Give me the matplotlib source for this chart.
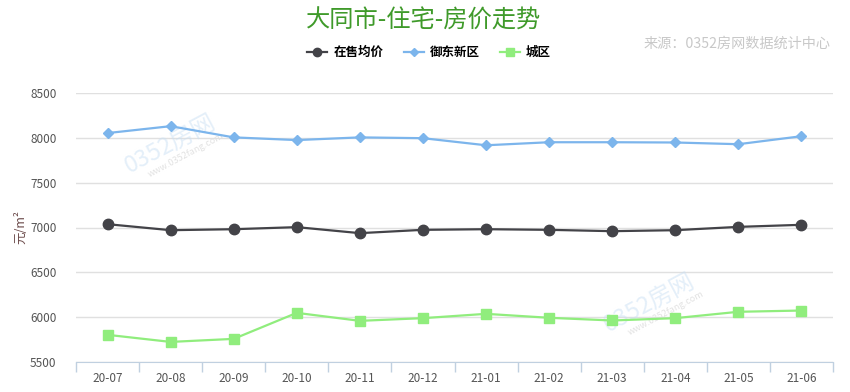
import matplotlib
matplotlib.use("Agg")
import matplotlib.pyplot as plt

plt.rcParams['font.family'] = ['Noto Sans CJK SC', 'DejaVu Sans']

months = ['20-07', '20-08', '20-09', '20-10', '20-11', '20-12',
          '21-01', '21-02', '21-03', '21-04', '21-05', '21-06']
avg_price = [7037, 6970, 6981, 7004, 6937, 6974, 6981, 6974, 6959, 6970, 7007, 7030]
yudong = [8053, 8130, 8005, 7975, 8005, 7996, 7917, 7951, 7951, 7948, 7929, 8018]
chengqu = [5803, 5724, 5758, 6048, 5959, 5989, 6037, 5993, 5963, 5989, 6060, 6074]
yticks = [5500, 6000, 6500, 7000, 7500, 8000, 8500]

fig = plt.figure(figsize=(8.5, 3.92), dpi=100)
ax = fig.add_axes([76/850, 1-362/392, (833-76)/850, (362-93)/392])

x = list(range(len(months)))

# faint watermarks
for wx, wy in [(1.0, 7920), (8.6, 6150)]:
    ax.text(wx, wy, '0352房网', fontsize=17, color='#c9dff3', alpha=0.5,
            rotation=28, ha='center', va='center', zorder=1, fontstyle='italic')
    ax.text(wx+0.25, wy-110, 'www.0352fang.com', fontsize=6.5, color='#e2e2e2',
            rotation=28, ha='center', va='center', zorder=1)

ax.plot(x, yudong, color='#7cb5ec', lw=1.6, marker='D', ms=5, zorder=3)
ax.plot(x, avg_price, color='#434348', lw=1.6, marker='o', ms=7.5, zorder=3)
ax.plot(x, chengqu, color='#90ed7d', lw=1.6, marker='s', ms=6.5, zorder=3)

ax.set_xlim(-0.5, len(months) - 0.5)
ax.set_ylim(5500, 8500)
ax.set_yticks(yticks)
ax.set_yticklabels([str(v) for v in yticks], fontsize=8.5, color='#555555')
ax.grid(axis='y', color='#e0e0e0', lw=1)
ax.set_axisbelow(True)

ax.set_xticks(x)
ax.set_xticklabels(months, fontsize=8.5, color='#555555')
ax.tick_params(axis='x', length=0, pad=7)
ax.set_xticks([i - 0.5 for i in range(len(months) + 1)], minor=True)
ax.tick_params(axis='x', which='minor', length=7, color='#c0d0e0', width=1)
ax.tick_params(axis='y', length=0, pad=14)

for s in ['top', 'right', 'left']:
    ax.spines[s].set_visible(False)
ax.spines['bottom'].set_color('#c0d0e0')

ax.set_ylabel('元/m²', fontsize=9, color='#6b4a4a', labelpad=2)

fig.text(0.498, 0.948, '大同市-住宅-房价走势', fontsize=17.5, color='#3f9a2a',
         ha='center', va='center')
fig.text(0.977, 0.888, '来源：0352房网数据统计中心', fontsize=10.2, color='#c8c8c8',
         ha='right', va='center')

# legend
handles = [
    plt.Line2D([], [], color='#434348', lw=1.6, marker='o', ms=6),
    plt.Line2D([], [], color='#7cb5ec', lw=1.6, marker='D', ms=4),
    plt.Line2D([], [], color='#90ed7d', lw=1.6, marker='s', ms=5.5),
]
fig.legend(handles, ['在售均价', '御东新区', '城区'], loc='center',
           bbox_to_anchor=(0.505, 0.866), ncol=3, frameon=False,
           prop={'size': 9, 'weight': 'bold'}, handlelength=1.6,
           columnspacing=1.6, handletextpad=0.5)

fig.savefig('out.png', dpi=100)
